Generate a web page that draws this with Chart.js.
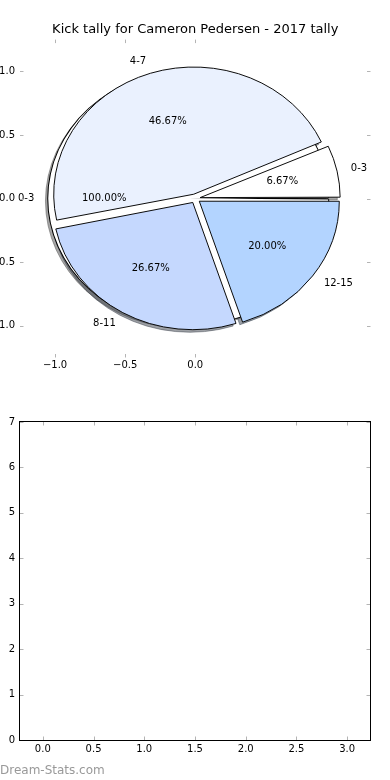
<!DOCTYPE html>
<html><head><meta charset="utf-8">
<script src="https://cdn.jsdelivr.net/npm/chart.js@4/dist/chart.umd.min.js"></script>
<style>
html,body{margin:0;padding:0;background:#fff;width:390px;height:780px;overflow:hidden;}
#wrap{position:relative;width:390px;height:780px;}
#top{position:absolute;left:0;top:0;}
#bot{position:absolute;left:0;top:390px;}
#wm{position:absolute;left:0;top:762px;font:12px "DejaVu Sans";color:#999;white-space:nowrap;line-height:16px;}
</style></head><body>
<div id="wrap">
<canvas id="top" width="390" height="390"></canvas>
<canvas id="bot" width="390" height="390"></canvas>
<div id="wm">Dream-Stats.com</div>
</div>
<script>
// ---- data ----
const chartTitle = 'Kick tally for Cameron Pedersen - 2017 tally';
const categories = ['0-3', '4-7', '8-11', '12-15'];
const kickCounts = [1, 7, 4, 3];
const sliceColors = ['#ffffff', '#eaf1fe', '#c5d8fe', '#b3d4ff'];
const underCategories = ['0-3'];
const underCounts = [1];
const underColors = ['#ffffff'];
const pieXTicks = [-1.0, -0.5, 0.0];
const pieYTicks = [-1.0, -0.5, 0.0, 0.5, 1.0];
const barPositions = [0, 1, 2, 3];
const barValues = [0, 0, 0, 0];
const barXTicks = [0, 0.5, 1.0, 1.5, 2.0, 2.5, 3.0];
const barYTicks = [0, 1, 2, 3, 4, 5, 6, 7];

// ---- style constants ----
const FONT = 'DejaVu Sans';
const R = 140;               // pie radius (px, horizontal)
const SY = 127.2 / 140;      // vertical squash of the pie axes
const EXPLODE = 20;          // chart.js offset (translates offset/4 px)
const UNDER_EXPLODE = 28;
const SH_DX = -2.8, SH_DY = 2.55;
const TL = 3.5;
const TICK_COLOR = '#b4b4b4';

Chart.defaults.font.family = FONT;
Chart.defaults.font.size = 10;
Chart.defaults.color = '#000';

const minus = s => s.replace('-', '\u2212');

function shadowOf(hex) {
  const n = parseInt(hex.slice(1), 16);
  const r = (n >> 16) & 255, g = (n >> 8) & 255, b = n & 255;
  return `rgba(${Math.round(r*0.3)},${Math.round(g*0.3)},${Math.round(b*0.3)},0.5)`;
}
function drawWith(el, ctx, over) {
  const o = el.options;
  el.options = Object.assign({}, o, over);
  el.draw(ctx);
  el.options = o;
}
function squash(ctx, chart) {
  const a = chart.chartArea;
  const cx = (a.left + a.right) / 2, cy = (a.top + a.bottom) / 2;
  ctx.translate(cx, cy); ctx.scale(1, SY); ctx.translate(-cx, -cy);
}

const tickMarks = {
  id: 'tickMarks',
  afterDraw(chart) {
    const {ctx, chartArea: a, scales: {x, y}} = chart;
    ctx.save();
    ctx.strokeStyle = TICK_COLOR; ctx.lineWidth = 1;
    ctx.beginPath();
    x.ticks.forEach(t => {
      const px = Math.round(x.getPixelForValue(t.value)) + 0.5;
      ctx.moveTo(px, a.top); ctx.lineTo(px, a.top + TL);
      ctx.moveTo(px, a.bottom); ctx.lineTo(px, a.bottom - TL);
    });
    y.ticks.forEach(t => {
      const py = Math.round(y.getPixelForValue(t.value)) + 0.5;
      ctx.moveTo(a.left, py); ctx.lineTo(a.left + TL, py);
      ctx.moveTo(a.right, py); ctx.lineTo(a.right - TL, py);
    });
    ctx.stroke();
    ctx.restore();
  }
};

const piePlugin = {
  id: 'piePlugin',
  afterDatasetsUpdate(chart) {
    chart.data.datasets.forEach((ds, i) => {
      chart.getDatasetMeta(i).data.forEach(el => {
        const off = (el.options.offset || 0) / 4;
        const fix = 1 - Math.sin(Math.min(Math.PI, el.circumference || 0));
        el.innerRadius = 0;
        el.outerRadius = R - off * fix;
      });
    });
  },
  beforeDatasetsDraw(chart) {
    const ctx = chart.ctx;
    ctx.save();
    ctx.translate(SH_DX, SH_DY);
    squash(ctx, chart);
    for (let i = chart.data.datasets.length - 1; i >= 0; i--) {
      chart.getDatasetMeta(i).data.forEach(el => {
        const c = shadowOf(el.options.backgroundColor);
        drawWith(el, ctx, {backgroundColor: c, borderColor: c, borderWidth: 1});
      });
    }
    ctx.restore();
    ctx.save();
    squash(ctx, chart);
  },
  afterDatasetDraw(chart, args) {
    if (args.index === 1) {
      chart.getDatasetMeta(1).data.forEach(el => drawWith(el, chart.ctx, {borderWidth: 0}));
    }
  },
  afterDatasetsDraw(chart) {
    const ctx = chart.ctx;
    ctx.restore();
    ctx.save();
    ctx.font = `10px "${FONT}"`;
    ctx.fillStyle = '#000';
    ctx.textBaseline = 'middle';
    chart.data.datasets.forEach((ds, i) => {
      const total = ds.data.reduce((s, v) => s + v, 0);
      chart.getDatasetMeta(i).data.forEach((el, j) => {
        const mid = (el.startAngle + el.endAngle) / 2;
        const d = (el.options.offset || 0) / 4;
        const c = Math.cos(mid), s = Math.sin(mid);
        const cx = el.x + d * c, cy = el.y + d * s * SY;
        ctx.textAlign = c < 0 ? 'right' : 'left';
        ctx.fillText(ds.cats[j], cx + 1.1 * R * c, cy + 1.1 * R * s * SY);
        ctx.textAlign = 'center';
        ctx.fillText((ds.data[j] / total * 100).toFixed(2) + '%', cx + 0.6 * R * c, cy + 0.6 * R * s * SY);
      });
    });
    ctx.restore();
  }
};

const axisGrid = { display: false, drawTicks: false };

// ---- top: pie ----
new Chart(document.getElementById('top'), {
  type: 'pie',
  data: {
    labels: categories.slice().reverse(),
    datasets: [
      { data: kickCounts.slice().reverse(), backgroundColor: sliceColors.slice().reverse(),
        borderColor: '#000', borderWidth: 1, offset: EXPLODE, cats: categories.slice().reverse() },
      { data: underCounts, backgroundColor: underColors,
        borderColor: '#000', borderWidth: 2, offset: UNDER_EXPLODE, cats: underCategories }
    ]
  },
  options: {
    responsive: false, devicePixelRatio: 1, animation: false, events: [],
    rotation: 90,
    layout: { padding: { left: 0, right: 19.5, top: 0, bottom: 0 } },
    plugins: {
      legend: { display: false }, tooltip: { enabled: false },
      title: { display: true, text: chartTitle, color: '#000', fullSize: false,
               font: { family: FONT, size: 13, weight: 'normal', lineHeight: 1.2 },
               padding: { top: 22, bottom: 2 } }
    },
    scales: {
      x: { type: 'linear', position: 'bottom', min: -1.25, max: 1.25,
           grid: axisGrid, border: { display: false },
           afterBuildTicks: s => { s.ticks = pieXTicks.map(v => ({ value: v })); },
           afterFit: s => { s.height = 32.5; },
           ticks: { padding: 2, maxRotation: 0, autoSkip: false, callback: v => minus(v.toFixed(1)) } },
      y: { type: 'linear', position: 'left', min: -1.25, max: 1.25,
           grid: axisGrid, border: { display: false },
           afterBuildTicks: s => { s.ticks = pieYTicks.map(v => ({ value: v })); },
           afterFit: s => { s.width = 20; },
           ticks: { padding: 5, autoSkip: false, callback: v => minus(v.toFixed(1)) } }
    }
  },
  plugins: [piePlugin, tickMarks]
});

// ---- bottom: empty bar axes ----
const framePlugin = {
  id: 'frame',
  afterDraw(chart) {
    const {ctx, chartArea: a} = chart;
    ctx.save();
    ctx.strokeStyle = '#000'; ctx.lineWidth = 1;
    ctx.strokeRect(a.left - 0.5, a.top - 0.5, a.right - a.left + 1, a.bottom - a.top + 1);
    ctx.restore();
  }
};
new Chart(document.getElementById('bot'), {
  type: 'bar',
  data: {
    datasets: [{ data: barPositions.map((p, i) => ({ x: p, y: barValues[i] })),
                 backgroundColor: sliceColors[3], borderWidth: 0 }]
  },
  options: {
    responsive: false, devicePixelRatio: 1, animation: false, events: [],
    layout: { padding: { left: 0, right: 20, top: 32, bottom: 0 } },
    plugins: { legend: { display: false }, tooltip: { enabled: false } },
    scales: {
      x: { type: 'linear', min: -0.225, max: 3.225, offset: false,
           grid: axisGrid, border: { display: false },
           afterBuildTicks: s => { s.ticks = barXTicks.map(v => ({ value: v })); },
           afterFit: s => { s.height = 40; },
           ticks: { padding: 3, maxRotation: 0, autoSkip: false, callback: v => v.toFixed(1) } },
      y: { type: 'linear', min: 0, max: 7,
           grid: axisGrid, border: { display: false },
           afterBuildTicks: s => { s.ticks = barYTicks.map(v => ({ value: v })); },
           afterFit: s => { s.width = 20; },
           ticks: { padding: 5, autoSkip: false, callback: v => String(v) } }
    }
  },
  plugins: [tickMarks, framePlugin]
});
</script>
</body></html>
